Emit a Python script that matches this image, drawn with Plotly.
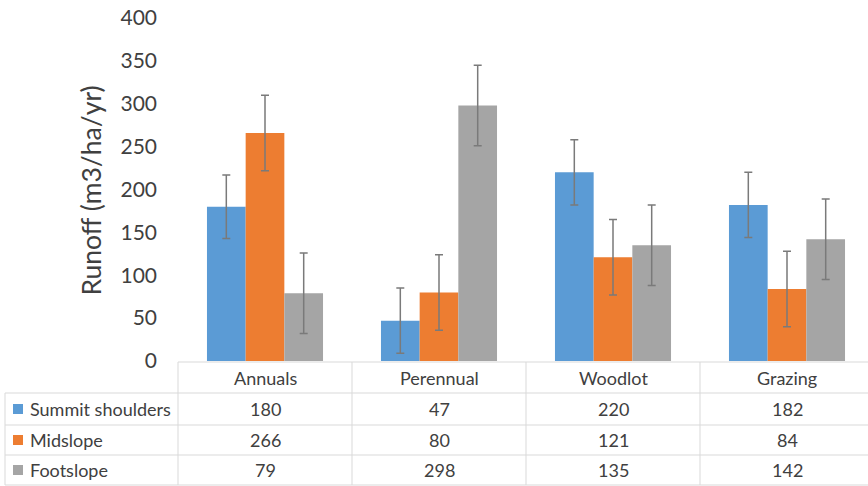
import plotly.graph_objects as go

# ---------------- data ----------------
categories = ["Annuals", "Perennual", "Woodlot", "Grazing"]
series_names = ["Summit shoulders", "Midslope", "Footslope"]
summit = [180, 47, 220, 182]
midslope = [266, 80, 121, 84]
footslope = [79, 298, 135, 142]
summit_err = [37, 38, 38, 38]
midslope_err = [44, 44, 44, 44]
footslope_err = [47, 47, 47, 47]
y_ticks = [0, 50, 100, 150, 200, 250, 300, 350, 400]
y_title = "Runoff (m3/ha/yr)"

colors = ["#5B9BD5", "#ED7D31", "#A5A5A5"]
values = [summit, midslope, footslope]
errors = [summit_err, midslope_err, footslope_err]

# ---------------- geometry helpers ----------------
W, H = 868, 486
L, R, T, B = 178, 0, 18, 125
PW = W - L - R
PH = H - T - B
FONT = "Lato"
TXT = "#404040"
LINE = "#d9d9d9"


def px(x):
    return (x - L) / PW


def py(y):
    return (H - B - y) / PH


fig = go.Figure()
for name, vals, errs, col in zip(series_names, values, errors, colors):
    fig.add_trace(go.Bar(
        x=list(range(len(categories))), y=vals, name=name,
        marker=dict(color=col, line=dict(width=0)),
        error_y=dict(type="data", array=errs, visible=True,
                     color="#7a7a7a", thickness=1.5, width=4),
    ))

shapes = []


def hline(y, x0, x1):
    shapes.append(dict(type="line", xref="paper", yref="paper",
                       x0=px(x0), x1=px(x1), y0=py(y), y1=py(y),
                       line=dict(color=LINE, width=1)))


def vline(x, y0, y1):
    shapes.append(dict(type="line", xref="paper", yref="paper",
                       x0=px(x), x1=px(x), y0=py(y0), y1=py(y1),
                       line=dict(color=LINE, width=1)))


hline(362, 178, 868)
for yy in (393, 425, 455, 485):
    hline(yy, 5, 868)
vline(5, 393, 485)
for xx in (178, 352, 526, 700):
    vline(xx, 362, 485)

row_centers = [409, 440, 470]
annotations = []
# header
for i, c in enumerate(categories):
    annotations.append(dict(xref="x", yref="paper", x=i, y=py(377.5),
                            text=c, showarrow=False, xanchor="center", yanchor="middle",
                            font=dict(family=FONT, size=18, color=TXT)))
# rows
for r, (name, vals, col) in enumerate(zip(series_names, values, colors)):
    yc = row_centers[r]
    shapes.append(dict(type="rect", xref="paper", yref="paper",
                       x0=px(13), x1=px(23), y0=py(yc - 5), y1=py(yc + 5),
                       fillcolor=col, line=dict(width=0)))
    annotations.append(dict(xref="paper", yref="paper", x=px(28), y=py(yc),
                            text=name, showarrow=False, xanchor="left", yanchor="middle",
                            font=dict(family=FONT, size=18, color=TXT)))
    for i, v in enumerate(vals):
        annotations.append(dict(xref="x", yref="paper", x=i, y=py(yc),
                                text=str(v), showarrow=False, xanchor="center", yanchor="middle",
                                font=dict(family=FONT, size=18, color=TXT)))
# y title
annotations.append(dict(xref="paper", yref="paper", x=px(90), y=py(190.5),
                        text=y_title, textangle=-90, showarrow=False,
                        xanchor="center", yanchor="middle",
                        font=dict(family=FONT, size=26.5, color=TXT)))

fig.update_layout(
    width=W, height=H,
    margin=dict(l=L, r=R, t=T, b=B, pad=0),
    paper_bgcolor="white", plot_bgcolor="white",
    barmode="group", bargap=0.333, bargroupgap=0,
    showlegend=False,
    shapes=shapes, annotations=annotations,
    xaxis=dict(range=[-0.5, -0.5 + PW / 174.0], showticklabels=False, showgrid=False,
               zeroline=False, showline=False, ticks=""),
    yaxis=dict(range=[0, 400], tickvals=y_ticks, showgrid=False, zeroline=False,
               showline=False, ticks="", ticklabelstandoff=20,
               tickfont=dict(family=FONT, size=21, color=TXT)),
)

fig.write_html("out.html",
               config={"displayModeBar": False},
               post_script="document.body.style.margin='0';document.body.style.overflow='hidden';")
